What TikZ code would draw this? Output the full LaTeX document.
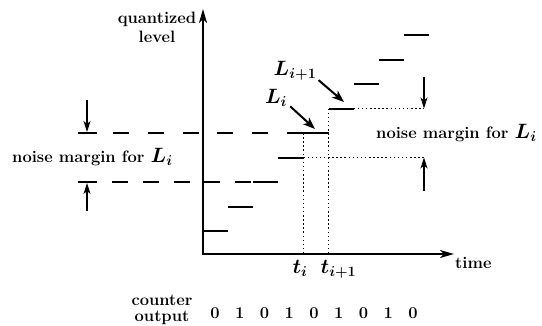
\documentclass[tikz,border=0pt]{standalone}
\usepackage{bm}
\usetikzlibrary{arrows.meta}
\begin{document}
\begin{tikzpicture}[x=1pt,y=-1pt,
  txt/.style={font=\fontsize{16.5}{19}\selectfont\bfseries, inner sep=0pt},
  mthL/.style={font=\fontsize{20}{24}\selectfont, inner sep=0pt},
  mthT/.style={font=\fontsize{22}{26}\selectfont, inner sep=0pt},
  axis/.style={line width=2pt, line join=miter},
  stepseg/.style={line width=2pt},
  dashu/.style={line width=1.7pt, dash pattern=on 16pt off 18.8pt},
  dashl/.style={line width=1.7pt, dash pattern=on 16pt off 14.75pt},
  barln/.style={line width=1.7pt},
  dotln/.style={line width=1.7pt, dash pattern=on 1.5pt off 2.6pt},
  marg/.style={line width=1.2pt, -{Stealth[length=11pt,width=7pt,inset=3pt]}},
  ptr/.style={line width=2pt, -{Stealth[length=12pt,width=9pt,inset=3pt]}}]
\useasboundingbox (0,0) rectangle (542,325);

% axes
\coordinate (O) at (203,254);
\coordinate (Ytip) at (203,9);
\coordinate (Xtip) at (454,254);
\draw[axis, {Stealth[length=14pt,width=8pt,inset=4pt]}-{Stealth[length=14pt,width=8pt,inset=4pt]}] (Ytip) -- (O) -- (Xtip);

% steps
\foreach \k in {0,...,8}{
  \coordinate (s\k a) at ({203+25.1*\k},{231-24.5*\k});
  \coordinate (s\k b) at ({203+25.1*(\k+1)},{231-24.5*\k});
  \draw[stepseg] (s\k a) -- (s\k b);
}

% left dashed levels and bars
\coordinate (DU) at (113,133);
\coordinate (DL) at (112,182);
\draw[dashu] (DU) -- (s4a);
\draw[dashl] (DL) -- (s2a);
\coordinate (BU1) at (78,133); \coordinate (BU2) at (97,133);
\coordinate (BL1) at (78,182); \coordinate (BL2) at (97,182);
\draw[barln] (BU1) -- (BU2);
\draw[barln] (BL1) -- (BL2);
\coordinate (AUs) at (87,100); \coordinate (AUe) at (87,132);
\coordinate (ALs) at (87,211); \coordinate (ALe) at (87,183);
\draw[marg] (AUs) -- (AUe);
\draw[marg] (ALs) -- (ALe);

% dotted lines
\draw[dotln] (s4a) -- (s4a |- O);
\draw[dotln] (s5a) -- (s5a |- O);
\coordinate (RU) at (424,108.5);
\coordinate (RL) at (424,157.5);
\draw[dotln] (s5b) -- (RU);
\draw[dotln] (s3b) -- (RL);
\coordinate (RUs) at (424,77);
\coordinate (RLs) at (424,191);
\draw[marg] (RUs) -- (RU);
\draw[marg] (RLs) -- (RL);

% labels
\node[txt, align=center] (ql) at (157,27) {quantized\\level};
\node[txt, anchor=base west] (nmR) at (376,138) {noise margin for {\fontsize{20}{24}\selectfont$\bm{L_i}$}};
\node[txt, anchor=base west] (nmL) at (12,162) {noise margin for {\fontsize{20}{24}\selectfont$\bm{L_i}$}};
\node[mthL, anchor=base] (Li1) at (295,75) {$\bm{L_{i+1}}$};
\node[mthL, anchor=base] (Li) at (276,103) {$\bm{L_i}$};
\coordinate (Ti1) at (344,102);
\coordinate (Ti) at (315,129);
\draw[ptr] ([xshift=2pt]Li1.south east) -- (Ti1);
\draw[ptr] ([xshift=3pt]Li.south east) -- (Ti);
\node[mthT, anchor=base] (ti) at (300,273) {$\bm{t_i}$};
\node[mthT, anchor=base] (ti1) at (338.5,273) {$\bm{t_{i+1}}$};
\node[txt, anchor=base west] (time) at (455,268) {time};
\node[txt, align=center, font=\fontsize{16.5}{16.5}\selectfont\bfseries] (co) at (162,310) {counter\\output};
\foreach \d [count=\j from 0] in {0,1,0,1,0,1,0,1,0}{
  \node[txt, anchor=base] (d\j) at ({215+24.75*\j},318) {\d};
}
\end{tikzpicture}
\end{document}
